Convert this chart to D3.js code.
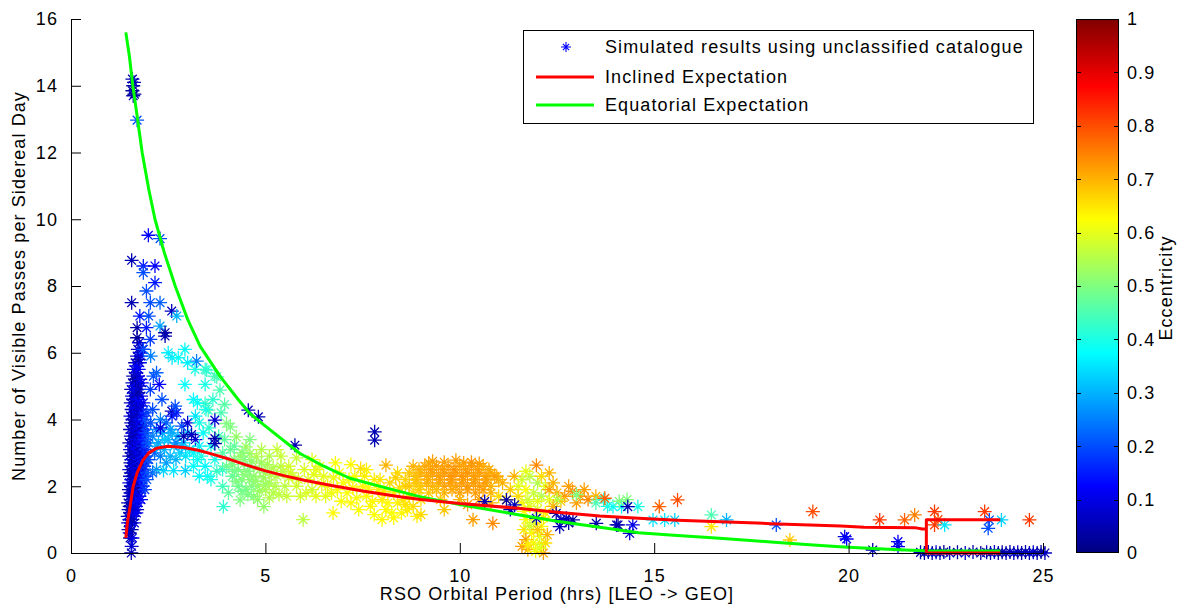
<!DOCTYPE html>
<html><head><meta charset="utf-8">
<script src="https://cdn.jsdelivr.net/npm/d3@7"></script>
<style>
html,body{margin:0;padding:0;background:#fff;}
svg text{font-family:"Liberation Sans",Arial,Helvetica,sans-serif;font-size:18px;letter-spacing:1.1px;fill:#000;}
</style></head><body>
<svg id="chart" width="1184" height="610"></svg>
<script>
// ---------- DATA ----------
const xTicks = [0, 5, 10, 15, 20, 25];
const yTicks = [0, 2, 4, 6, 8, 10, 12, 14, 16];
const cbTicks = [0, 0.1, 0.2, 0.3, 0.4, 0.5, 0.6, 0.7, 0.8, 0.9, 1];
const xLabel = "RSO Orbital Period (hrs) [LEO -> GEO]";
const yLabel = "Number of Visible Passes per Sidereal Day";
const cbLabel = "Eccentricity";
const legendLabels = ["Simulated results using unclassified catalogue", "Inclined Expectation", "Equatorial Expectation"];

// [period hrs, passes, eccentricity]
const leoColumn = [
[1.55,0.0,0.05],[1.56,0.2,0.08],[1.52,0.45,0.04],[1.58,0.45,0.1],[1.48,0.7,0.06],[1.56,0.7,0.03],
[1.47,0.9,0.08],[1.55,0.9,0.05],[1.63,0.9,0.1],[1.46,1.1,0.04],[1.53,1.1,0.09],[1.6,1.1,0.06],
[1.48,1.3,0.07],[1.56,1.3,0.03],[1.64,1.3,0.1],[1.7,1.3,0.05],
[1.47,1.5,0.05],[1.55,1.5,0.09],[1.62,1.5,0.04],[1.72,1.5,0.12],
[1.5,1.7,0.06],[1.58,1.7,0.02],[1.66,1.7,0.08],[1.76,1.7,0.1],
[1.49,1.9,0.04],[1.57,1.9,0.07],[1.65,1.9,0.11],[1.74,1.9,0.05],[1.82,1.9,0.13],
[1.5,2.1,0.09],[1.6,2.1,0.03],[1.68,2.1,0.06],[1.78,2.1,0.1],
[1.52,2.3,0.05],[1.6,2.3,0.08],[1.7,2.3,0.04],[1.8,2.3,0.12],[1.9,2.3,0.15],
[1.5,2.5,0.07],[1.58,2.5,0.03],[1.66,2.5,0.1],[1.75,2.5,0.06],[1.86,2.5,0.14],
[1.53,2.7,0.04],[1.62,2.7,0.09],[1.71,2.7,0.05],[1.8,2.7,0.11],[1.92,2.7,0.16],
[1.5,2.9,0.06],[1.6,2.9,0.02],[1.68,2.9,0.08],[1.78,2.9,0.12],[1.88,2.9,0.1],
[1.52,3.1,0.08],[1.63,3.1,0.04],[1.72,3.1,0.1],[1.83,3.1,0.06],[1.95,3.1,0.15],
[1.5,3.3,0.05],[1.6,3.3,0.09],[1.7,3.3,0.03],[1.8,3.3,0.11],[1.9,3.3,0.13],
[1.54,3.5,0.07],[1.64,3.5,0.02],[1.74,3.5,0.09],[1.86,3.5,0.12],
[1.52,3.7,0.04],[1.62,3.7,0.08],[1.72,3.7,0.05],[1.82,3.7,0.1],
[1.55,3.9,0.06],[1.65,3.9,0.1],[1.75,3.9,0.03],[1.85,3.9,0.08],
[1.53,4.1,0.09],[1.63,4.1,0.05],[1.73,4.1,0.11],[1.84,4.1,0.07],
[1.56,4.3,0.04],[1.66,4.3,0.08],[1.78,4.3,0.12],
[1.54,4.5,0.06],[1.64,4.5,0.1],[1.74,4.5,0.03],[1.86,4.5,0.13],
[1.57,4.7,0.08],[1.68,4.7,0.05],[1.8,4.7,0.11],
[1.55,4.9,0.04],[1.65,4.9,0.09],[1.76,4.9,0.07],
[1.58,5.1,0.06],[1.7,5.1,0.1],[1.82,5.1,0.13],
[1.6,5.3,0.05],[1.72,5.3,0.09],[1.62,5.5,0.07],[1.74,5.5,0.12],
[1.65,5.7,0.04],[1.77,5.7,0.1],[1.7,5.9,0.08],[1.8,5.9,0.13],
[1.72,6.1,0.06],[1.84,6.1,0.11],[1.75,6.3,0.09]
];
const leoFill = [
[1.51,0.6,0.07],[1.5,1.0,0.1],[1.58,1.0,0.04],[1.52,1.2,0.06],[1.6,1.2,0.09],[1.68,1.2,0.12],[1.51,1.4,0.03],
[1.59,1.4,0.07],[1.67,1.4,0.1],[1.54,1.6,0.05],[1.62,1.6,0.1],[1.7,1.6,0.14],[1.8,1.6,0.12],[1.53,1.8,0.08],
[1.61,1.8,0.04],[1.7,1.8,0.11],[1.54,2.0,0.06],[1.64,2.0,0.1],[1.73,2.0,0.04],[1.84,2.0,0.15],[1.55,2.2,0.09],
[1.65,2.2,0.05],[1.75,2.2,0.13],[1.85,2.2,0.16],[1.54,2.4,0.04],[1.63,2.4,0.1],[1.72,2.4,0.07],[1.82,2.4,0.15],
[1.95,2.4,0.2],[1.56,2.6,0.06],[1.66,2.6,0.12],[1.76,2.6,0.05],[1.88,2.6,0.17],[1.55,2.8,0.1],[1.65,2.8,0.05],
[1.75,2.8,0.14],[1.85,2.8,0.09],[1.98,2.8,0.2],[1.56,3.0,0.03],[1.66,3.0,0.1],[1.76,3.0,0.07],[1.87,3.0,0.15],
[1.56,3.2,0.08],[1.66,3.2,0.12],[1.76,3.2,0.05],[1.86,3.2,0.17],[1.58,3.4,0.05],[1.68,3.4,0.1],[1.8,3.4,0.14],
[1.92,3.4,0.18],[1.58,3.6,0.09],[1.68,3.6,0.04],[1.78,3.6,0.12],[1.9,3.6,0.16],[1.59,3.8,0.07],[1.7,3.8,0.11],
[1.8,3.8,0.05],[1.9,3.8,0.17],[1.58,4.0,0.04],[1.68,4.0,0.09],[1.79,4.0,0.13],[1.9,4.0,0.2],[1.6,4.2,0.08],
[1.71,4.2,0.05],[1.82,4.2,0.14],[1.6,4.4,0.11],[1.7,4.4,0.06],[1.8,4.4,0.09],[1.6,4.6,0.05],[1.72,4.6,0.12],
[1.62,4.8,0.09],[1.72,4.8,0.04],[1.62,5.0,0.11],[1.75,5.0,0.06],[1.66,5.2,0.03],[1.78,5.2,0.1],[1.68,5.4,0.08],
[1.68,5.6,0.12],[1.74,5.8,0.05],[1.78,6.0,0.09]
];
const leoSparse = [
[1.56,8.77,0.05],[1.86,8.6,0.15],[2.16,8.6,0.12],[1.86,8.4,0.2],[2.16,8.1,0.15],[1.94,7.85,0.2],
[1.56,7.5,0.05],[2.04,7.5,0.2],[2.29,7.5,0.22],[2.59,7.25,0.06],[1.77,7.1,0.15],[2.0,7.1,0.2],
[2.72,7.1,0.3],[1.7,6.75,0.04],[1.7,6.45,0.03],[1.94,6.75,0.15],[2.29,6.8,0.28],[2.42,6.6,0.03],
[2.42,6.5,0.05],[2.04,6.4,0.18],[1.86,6.1,0.2],[1.99,9.52,0.12],[2.29,9.42,0.2],
[1.6,13.7,0.05],[1.58,13.85,0.03],[1.6,14.0,0.04],[1.62,14.1,0.06],[1.58,14.2,0.05],[1.63,13.75,0.02],[1.7,12.97,0.2]
];
const blueShoulder = [
[1.95,3.6,0.2],[2.0,3.3,0.22],[2.05,3.9,0.2],[2.1,3.5,0.25],[2.15,3.0,0.22],[2.2,3.7,0.25],[2.25,3.3,0.28],
[2.3,2.9,0.25],[2.35,3.6,0.27],[2.4,3.1,0.3],[2.45,2.7,0.28],[2.5,3.4,0.3],[2.55,2.9,0.3],[2.6,3.6,0.3],
[2.65,3.2,0.32],[2.7,2.8,0.3],[2.75,3.5,0.3],[2.8,3.0,0.33],[2.9,3.3,0.32],[2.95,2.9,0.35],[3.0,3.6,0.33],
[3.05,3.1,0.35],[2.0,2.8,0.2],[2.1,2.4,0.22],[1.95,4.2,0.18],[2.1,4.3,0.2],[2.3,4.0,0.25],[2.45,3.9,0.22],
[2.6,4.1,0.15],[2.85,3.8,0.2],[3.0,3.9,0.08],[2.2,2.5,0.27],[2.38,2.47,0.33],[2.64,2.47,0.35],[2.94,2.47,0.33],
[3.25,2.8,0.38],[3.51,2.3,0.38],[3.2,3.4,0.08],[3.1,3.55,0.06],[1.9,1.9,0.18],[1.95,2.2,0.2],[2.12,5.3,0.2],
[2.2,5.4,0.22],[2.04,4.9,0.18],[2.34,4.6,0.2],[2.59,4.25,0.06],[2.72,4.2,0.15],[2.68,4.4,0.2],[2.27,5.05,0.12],
[2.05,5.9,0.25],[2.2,3.2,0.3],[2.4,3.4,0.32],[2.55,3.7,0.28],[2.7,3.3,0.25],[2.85,3.2,0.3],[3.15,3.0,0.37],
[3.3,3.2,0.36],[2.3,3.75,0.1],[2.9,3.5,0.05]
];
const cyanGroup = [
[2.5,6.0,0.36],[2.6,5.85,0.35],[2.76,5.85,0.38],[2.93,6.1,0.38],[3.19,5.5,0.4],[3.45,5.5,0.42],[2.93,5.05,0.38],
[3.45,5.05,0.4],[3.15,4.6,0.37],[3.7,5.3,0.43],[3.49,5.48,0.42],[3.75,5.28,0.45],[3.83,4.88,0.45],[3.45,4.48,0.43],
[3.53,4.28,0.45],[3.25,4.5,0.38],[3.47,4.3,0.4],[3.2,4.1,0.35],[3.86,4.2,0.45],[3.4,3.6,0.38],[3.3,3.9,0.4],
[3.6,3.2,0.4],[3.7,2.8,0.4],[3.45,2.6,0.37],[3.9,2.5,0.42],[3.6,2.2,0.4],[3.9,2.0,0.44],[3.92,1.39,0.42],
[3.3,2.3,0.37],[3.55,3.75,0.42],[3.8,3.5,0.44],[3.65,4.6,0.42],[3.95,4.45,0.46],[3.23,5.75,0.25],[3.0,5.7,0.36],
[3.35,2.9,0.4],[3.15,2.6,0.38],[3.75,2.45,0.43]
];
const greenGroup = [
[4.0,3.88,0.5],[4.1,3.78,0.5],[4.25,3.48,0.52],[4.5,3.18,0.53],[4.6,2.98,0.53],[4.77,2.88,0.55],[3.95,3.4,0.47],
[4.1,3.1,0.48],[4.2,2.8,0.5],[4.3,2.5,0.5],[4.4,2.2,0.5],[4.5,1.9,0.5],[4.6,2.6,0.5],[4.7,2.3,0.52],[4.8,2.0,0.52],
[4.9,2.7,0.53],[5.0,2.4,0.53],[5.1,2.1,0.54],[5.2,1.8,0.55],[4.35,1.59,0.5],[4.96,1.39,0.52],[4.0,2.6,0.48],
[4.15,2.3,0.47],[4.3,2.0,0.48],[4.45,2.8,0.5],[4.55,2.45,0.5],[4.65,2.0,0.5],[4.85,2.5,0.52],[5.0,1.9,0.55],
[5.3,2.3,0.55],[5.4,2.6,0.56],[3.9,3.0,0.46],[4.05,1.8,0.47],[4.7,1.7,0.5],[5.5,2.0,0.56],[5.55,1.7,0.57],
[4.2,3.2,0.47],[4.4,3.0,0.5],[4.9,3.1,0.55],[5.1,2.9,0.55],[4.6,3.4,0.5],[5.3,3.1,0.57],
[4.15,2.65,0.5],[4.25,2.15,0.5],[4.35,2.9,0.52],[4.45,2.35,0.51],[4.55,1.75,0.5],[4.65,2.75,0.52],[4.75,2.15,0.52],
[4.85,1.85,0.53],[4.95,2.25,0.53],[5.05,2.65,0.54],[5.15,2.35,0.55],[5.25,2.0,0.55],[5.35,1.75,0.56],[5.45,2.45,0.56],
[4.4,1.85,0.49],[4.8,1.6,0.52],[5.2,2.55,0.55],[4.2,2.45,0.49],[4.6,2.2,0.51],[5.0,2.05,0.53],[5.6,2.25,0.57],[5.1,1.65,0.55]
];
const yellowGroup = [
[5.4,2.9,0.57],[5.6,2.6,0.58],[5.7,2.3,0.58],[5.8,2.0,0.58],[5.9,1.7,0.58],[6.0,2.5,0.59],[6.1,2.2,0.59],
[6.2,1.9,0.58],[6.3,1.7,0.6],[6.4,2.6,0.6],[6.5,2.3,0.6],[6.6,2.0,0.61],[6.7,1.8,0.61],[5.97,1.0,0.56],
[6.74,1.2,0.63],[6.9,2.4,0.62],[7.0,2.1,0.62],[7.1,1.8,0.62],[7.2,1.5,0.63],[7.3,2.3,0.62],[7.45,2.53,0.66],
[7.5,2.0,0.63],[7.6,1.7,0.63],[7.7,1.4,0.63],[7.8,2.2,0.64],[7.9,1.9,0.64],[8.0,1.6,0.64],[8.1,2.63,0.7],
[8.1,1.3,0.63],[8.2,2.1,0.66],[8.3,1.8,0.64],[8.4,1.5,0.64],[8.5,1.2,0.63],[8.6,2.0,0.67],[8.7,1.7,0.66],
[8.8,1.4,0.66],[8.9,1.1,0.64],[6.2,2.8,0.6],[5.8,2.85,0.57],[6.8,2.7,0.62],[7.6,2.5,0.64],[8.4,2.4,0.66],
[8.0,1.0,0.63],[7.8,1.15,0.62],[8.3,1.05,0.63],[7.2,2.65,0.63],
[5.65,2.4,0.58],[5.85,2.2,0.58],[6.05,1.8,0.59],[6.25,2.35,0.6],[6.45,2.05,0.6],[6.55,1.7,0.6],[6.75,2.25,0.61],
[6.85,1.9,0.62],[6.95,1.55,0.62],[7.15,2.2,0.62],[7.25,1.95,0.63],[7.35,1.65,0.62],[7.55,2.3,0.64],[7.65,1.95,0.63],
[7.75,1.55,0.63],[7.95,2.2,0.65],[8.05,1.85,0.64],[8.15,1.5,0.63],[8.25,1.2,0.62],[8.45,1.95,0.66],[8.55,1.6,0.65],
[8.65,1.3,0.64],[8.35,2.25,0.67],[7.4,1.3,0.62],[6.3,2.5,0.6]
];
const darkOutliers = [
[5.76,3.23,0.05],[7.81,3.63,0.05],[7.81,3.38,0.05],[4.56,4.28,0.05],[4.82,4.08,0.05],[3.7,3.98,0.08],[3.7,3.43,0.05],[3.7,3.28,0.05]
];
const orangeBlob = [
[8.8,2.6,0.7],[9.1,2.6,0.71],[9.4,2.6,0.72],[9.7,2.6,0.72],[10.0,2.6,0.71],[10.3,2.6,0.72],[10.6,2.6,0.7],
[8.7,2.4,0.68],[9.0,2.4,0.7],[9.3,2.4,0.71],[9.6,2.4,0.72],[9.9,2.4,0.72],[10.2,2.4,0.73],[10.5,2.4,0.72],[10.8,2.4,0.7],
[8.6,2.2,0.67],[8.9,2.2,0.7],[9.2,2.2,0.71],[9.5,2.2,0.72],[9.8,2.2,0.73],[10.1,2.2,0.72],[10.4,2.2,0.72],[10.7,2.2,0.71],[11.0,2.2,0.7],
[8.7,2.0,0.68],[9.0,2.0,0.69],[9.3,2.0,0.7],[9.6,2.0,0.72],[9.9,2.0,0.72],[10.2,2.0,0.73],[10.5,2.0,0.72],[10.8,2.0,0.7],
[8.8,1.8,0.66],[9.2,1.8,0.68],[9.6,1.8,0.7],[10.0,1.8,0.72],[10.4,1.8,0.72],[10.8,1.8,0.7],
[9.0,1.6,0.66],[9.5,1.6,0.68],[10.0,1.6,0.7],[10.5,1.6,0.72],
[9.3,2.75,0.72],[9.9,2.78,0.72],[10.3,2.72,0.73],[10.34,1.0,0.72],[10.85,0.89,0.74],[10.2,1.45,0.72],
[9.6,1.3,0.68],[9.0,1.15,0.66],[8.6,1.45,0.65],
[8.95,2.5,0.7],[9.25,2.5,0.72],[9.55,2.5,0.72],[9.85,2.5,0.73],[10.15,2.5,0.72],[10.45,2.5,0.72],[10.75,2.5,0.71],
[8.85,2.3,0.69],[9.15,2.3,0.71],[9.45,2.3,0.72],[9.75,2.3,0.73],[10.05,2.3,0.73],[10.35,2.3,0.72],[10.65,2.3,0.72],
[10.95,2.3,0.7],[8.85,2.1,0.68],[9.15,2.1,0.7],[9.45,2.1,0.71],[9.75,2.1,0.72],[10.05,2.1,0.72],[10.35,2.1,0.72],
[10.65,2.1,0.72],[8.95,1.9,0.67],[9.4,1.9,0.69],[9.8,1.9,0.71],[10.2,1.9,0.72],[10.6,1.9,0.72],[9.2,2.7,0.71],
[9.6,2.72,0.72],[10.1,2.7,0.72],[10.5,2.68,0.72]
];
const midGroup = [
[10.9,2.3,0.72],[11.1,2.1,0.7],[11.3,1.9,0.68],[11.0,1.7,0.66],[11.4,2.3,0.7],[10.8,1.5,0.7],[11.2,1.6,0.65],
[11.6,2.2,0.58],[11.8,2.3,0.56],[12.0,2.1,0.55],[12.2,2.0,0.6],[11.7,1.9,0.62],[11.9,1.8,0.57],[12.1,1.7,0.55],
[11.6,1.5,0.63],[11.8,1.4,0.6],[12.0,1.3,0.58],[12.2,1.2,0.62],[11.7,1.0,0.62],[11.9,0.9,0.6],[12.1,0.8,0.62],
[11.65,0.7,0.65],[11.85,0.6,0.63],[12.05,0.5,0.6],[12.25,0.55,0.7],[11.7,0.4,0.72],[11.9,0.3,0.62],[12.1,0.25,0.58],
[11.75,0.1,0.7],[11.95,0.05,0.62],[12.15,0.0,0.72],[11.6,0.2,0.72],[12.2,0.3,0.66],
[12.3,1.9,0.72],[12.5,1.8,0.7],[12.7,1.7,0.72],[12.9,1.85,0.74],[13.1,1.7,0.72],[13.3,1.6,0.74],[13.5,1.7,0.7],
[12.6,1.55,0.68],[13.0,1.5,0.72],[12.4,2.1,0.7],[12.8,2.0,0.72],[13.2,1.9,0.72],[11.97,2.63,0.74],[12.3,2.4,0.7],
[12.5,1.6,0.55],[13.0,1.75,0.5],[13.5,1.5,0.45],[13.7,1.6,0.42],[13.94,1.39,0.38],[14.16,1.39,0.38],[14.58,1.39,0.4],
[13.8,1.4,0.4],[14.1,1.55,0.5],[13.73,1.64,0.78],[14.3,1.6,0.5],
[11.5,2.0,0.6],[11.5,1.7,0.66],[12.3,1.6,0.6],[12.4,1.4,0.7],[11.7,2.45,0.6],[12.1,2.3,0.66],[11.75,1.6,0.58],
[12.0,1.55,0.6],[11.65,1.25,0.62],[12.15,1.05,0.65],[11.8,0.8,0.58],[12.0,0.7,0.68],[11.75,0.25,0.64],[12.05,0.15,0.6]
];
const navyMid = [
[10.64,1.54,0.05],[11.2,1.59,0.04],[11.41,1.44,0.06],[11.97,1.04,0.05],[12.48,1.19,0.04],[12.74,1.04,0.06],
[12.91,0.99,0.03],[12.57,0.79,0.05],[13.51,0.89,0.04],[14.07,0.84,0.05],[14.37,0.59,0.08],[14.45,0.84,0.1],
[14.32,1.39,0.05],[11.3,1.3,0.05],[12.6,1.0,0.06],[12.8,0.9,0.04],[14.03,0.84,0.05]
];
const geoSparse = [
[15.13,1.39,0.78],[15.6,1.59,0.8],[14.97,0.99,0.35],[15.27,0.99,0.35],[15.53,0.99,0.33],[16.47,1.14,0.45],
[16.47,0.79,0.65],[16.86,0.99,0.3],[18.14,0.84,0.2],[18.49,0.39,0.68],[19.08,1.24,0.8],[20.8,0.99,0.82],
[19.9,0.49,0.1],[19.95,0.42,0.12],[20.62,0.09,0.05],[21.27,0.34,0.12],[21.27,0.19,0.1],[21.44,0.99,0.78],
[21.7,1.14,0.75],[22.21,1.24,0.82],[22.21,0.84,0.82],[22.3,1.0,0.8],[22.47,0.84,0.35],[23.5,1.24,0.82],
[23.62,0.99,0.2],[23.59,0.74,0.2],[23.93,0.99,0.33],[24.65,0.99,0.82]
];
const geoBelt = [
[21.85,0.02,0.05],[21.95,0.0,0.03],[22.05,0.03,0.06],[22.15,0.0,0.04],[22.25,0.02,0.08],[22.35,0.0,0.05],
[22.45,0.03,0.03],[22.6,0.0,0.06],[22.8,0.02,0.04],[23.0,0.0,0.07],[23.2,0.03,0.05],[23.4,0.0,0.03],
[23.55,0.02,0.06],[23.65,0.0,0.04],[23.75,0.03,0.08],[23.85,0.0,0.05],[23.95,0.02,0.03],[24.05,0.0,0.06],
[24.15,0.03,0.04],[24.25,0.0,0.07],[24.35,0.02,0.05],[24.45,0.0,0.03],[24.55,0.03,0.06],[24.65,0.0,0.04],
[24.75,0.02,0.08],[24.85,0.0,0.05],[24.95,0.03,0.03],[25.05,0.0,0.06]
];
// expectation curves [period, passes]; null = break
const inclinedCurve = [
[1.41,0.45],[1.45,0.9],[1.52,1.4],[1.6,2.0],[1.7,2.4],[1.85,2.78],[2.0,3.0],[2.2,3.14],[2.5,3.2],[2.9,3.16],
[3.3,3.07],[3.7,2.94],[4.1,2.8],[4.5,2.64],[5.0,2.46],[5.5,2.31],[6.0,2.18],[6.7,2.02],[7.5,1.86],[8.5,1.68],
[9.0,1.6],[10.0,1.48],[11.5,1.34],[12.5,1.22],[13.6,1.11],[14.6,1.04],[15.6,0.98],[16.7,0.94],[18.0,0.88],
[19.0,0.84],[19.8,0.81],[20.4,0.77],[21.7,0.76],[21.9,0.72],[22.0,0.72],[22.0,0.0],[23.9,0.0],null,
[22.0,0.0],[22.0,1.0],[23.9,1.0]
];
const equatorialCurve = [
[1.41,15.6],[1.5,14.9],[1.59,14.0],[1.7,13.1],[1.83,12.0],[2.0,10.9],[2.16,10.0],[2.4,9.0],[2.68,8.0],[3.0,7.0],
[3.32,6.2],[3.83,5.3],[4.3,4.6],[4.6,4.18],[5.0,3.8],[5.89,2.98],[6.5,2.6],[7.17,2.24],[8.0,1.98],[8.97,1.69],
[10.0,1.45],[11.54,1.14],[12.5,0.95],[13.6,0.77],[14.6,0.61],[15.5,0.53],[16.68,0.44],[18.0,0.33],[19.0,0.25],
[19.77,0.19],[20.5,0.14],[21.3,0.1],[21.95,0.07],[22.0,0.06],[23.9,0.06]
];

// ---------- DRAW ----------
const svg = d3.select("#chart");
const x = d3.scaleLinear().domain([0, 25]).range([71, 1043]);
const y = d3.scaleLinear().domain([0, 16]).range([553, 19]);
const jet = d3.scaleLinear().domain([0, 0.125, 0.375, 0.625, 0.875, 1])
  .range(["#000080", "#0000ff", "#00ffff", "#ffff00", "#ff0000", "#800000"]).interpolate(d3.interpolateRgb);

function star(r) {
  const a = r * 0.62;
  return `M0,${-r}V${r}M${-r},0H${r}M${-a},${-a}L${a},${a}M${-a},${a}L${a},${-a}`;
}

// scatter
const allPoints = [].concat(leoColumn, leoFill, leoSparse, blueShoulder, cyanGroup, greenGroup, yellowGroup,
  darkOutliers, orangeBlob, midGroup, navyMid, geoSparse, geoBelt);
svg.append("g").selectAll("path").data(allPoints).join("path")
  .attr("d", star(7))
  .attr("transform", d => `translate(${x(d[0])},${y(d[1])})`)
  .attr("fill", "none").attr("stroke", d => jet(d[2])).attr("stroke-width", 1.3);

// lines
const line = d3.line().defined(d => d !== null).x(d => x(d[0])).y(d => y(d[1]));
svg.append("path").datum(equatorialCurve).attr("d", line).attr("fill", "none")
  .attr("stroke", "#00ff00").attr("stroke-width", 3).attr("stroke-linejoin", "round");
svg.append("path").datum(inclinedCurve).attr("d", line).attr("fill", "none")
  .attr("stroke", "#ff0000").attr("stroke-width", 3).attr("stroke-linejoin", "round");

// axes
const xAxis = d3.axisBottom(x).tickValues(xTicks).tickSizeInner(-10).tickSizeOuter(0).tickPadding(16).tickFormat(d3.format("d"));
const gx = svg.append("g").attr("transform", "translate(0,553)").call(xAxis);
const yAxis = d3.axisLeft(y).tickValues(yTicks).tickSizeInner(-10).tickSizeOuter(0).tickPadding(13).tickFormat(d3.format("d"));
const gy = svg.append("g").attr("transform", "translate(71,0)").call(yAxis);
[gx, gy].forEach(g => {
  g.attr("font-size", null).attr("font-family", null);
  g.selectAll("text").style("fill", "#000");
  g.selectAll("line,path").attr("stroke", "#000");
});

svg.append("text").attr("x", 557).attr("y", 600).attr("text-anchor", "middle").text(xLabel);
svg.append("text").attr("transform", "translate(25,286) rotate(-90)").attr("text-anchor", "middle").text(yLabel);

// legend
const lg = svg.append("g");
lg.append("rect").attr("x", 523.5).attr("y", 30.5).attr("width", 510).attr("height", 93)
  .attr("fill", "#fff").attr("stroke", "#000").attr("stroke-width", 1);
const rows = [47, 77, 105];
lg.append("path").attr("d", star(5)).attr("transform", `translate(566,${rows[0]})`)
  .attr("fill", "none").attr("stroke", "#0000ff").attr("stroke-width", 1.1);
lg.append("line").attr("x1", 536).attr("x2", 594).attr("y1", rows[1]).attr("y2", rows[1]).attr("stroke", "#ff0000").attr("stroke-width", 3);
lg.append("line").attr("x1", 536).attr("x2", 594).attr("y1", rows[2]).attr("y2", rows[2]).attr("stroke", "#00ff00").attr("stroke-width", 3);
legendLabels.forEach((t, i) => {
  lg.append("text").attr("x", 605).attr("y", rows[i]).attr("dy", "0.35em").text(t);
});

// colorbar
const cb = d3.scaleLinear().domain([0, 1]).range([553, 19]);
const defs = svg.append("defs");
const grad = defs.append("linearGradient").attr("id", "jetgrad").attr("x1", 0).attr("x2", 0).attr("y1", 1).attr("y2", 0);
jet.domain().forEach(v => grad.append("stop").attr("offset", v).attr("stop-color", jet(v)));
svg.append("rect").attr("x", 1076).attr("y", 19).attr("width", 43).attr("height", 534).attr("fill", "url(#jetgrad)");
svg.append("rect").attr("x", 1076.5).attr("y", 19.5).attr("width", 42).attr("height", 533).attr("fill", "none").attr("stroke", "#000");
const cbt = svg.append("g");
cbTicks.forEach(v => {
  const yy = Math.round(cb(v)) + 0.5;
  if (v > 0 && v < 1) {
    cbt.append("line").attr("x1", 1076).attr("x2", 1081).attr("y1", yy).attr("y2", yy).attr("stroke", "#000");
    cbt.append("line").attr("x1", 1114).attr("x2", 1119).attr("y1", yy).attr("y2", yy).attr("stroke", "#000");
  }
  cbt.append("text").attr("x", 1127).attr("y", cb(v)).attr("dy", "0.35em").text(d3.format("~g")(v));
});
svg.append("text").attr("transform", "translate(1172,288) rotate(-90)").attr("text-anchor", "middle").text(cbLabel);
</script>
</body></html>
